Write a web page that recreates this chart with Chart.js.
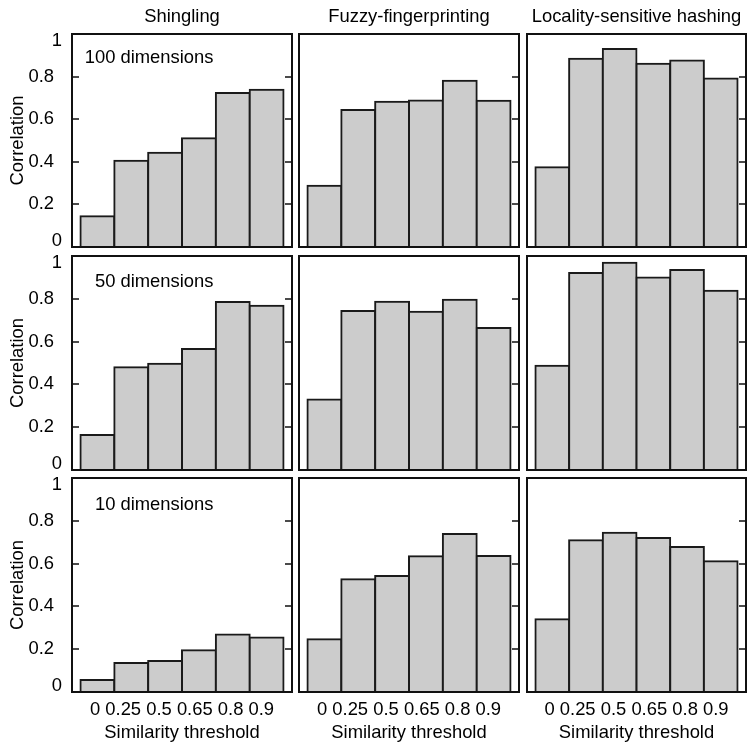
<!DOCTYPE html>
<html>
<head>
<meta charset="utf-8">
<title>Correlation by similarity threshold</title>
<script src="https://cdn.jsdelivr.net/npm/chart.js@4.4.1/dist/chart.umd.min.js"></script>
<style>
  html, body { margin: 0; padding: 0; background: #fff; }
  #wrap { position: relative; width: 747px; height: 744px; overflow: hidden; }
  #wrap canvas { position: absolute; }
</style>
</head>
<body>
<div id="wrap"></div>
<script>
// categories and labels
const thresholds = ['0', '0.25', '0.5', '0.65', '0.8', '0.9'];
const methods = ['Shingling', 'Fuzzy-fingerprinting', 'Locality-sensitive hashing'];
const dimensions = ['100 dimensions', '50 dimensions', '10 dimensions'];
const yTicks = [0, 0.2, 0.4, 0.6, 0.8, 1];

// correlation per threshold
const shingling100 = [0.144, 0.405, 0.442, 0.511, 0.723, 0.738];
const fuzzy100     = [0.288, 0.643, 0.682, 0.688, 0.781, 0.687];
const lsh100       = [0.375, 0.884, 0.929, 0.860, 0.876, 0.791];

const shingling50  = [0.164, 0.480, 0.496, 0.566, 0.785, 0.767];
const fuzzy50      = [0.330, 0.743, 0.786, 0.739, 0.795, 0.664];
const lsh50        = [0.487, 0.920, 0.968, 0.900, 0.935, 0.838];

const shingling10  = [0.056, 0.136, 0.145, 0.195, 0.269, 0.255];
const fuzzy10      = [0.247, 0.527, 0.542, 0.634, 0.738, 0.636];
const lsh10        = [0.340, 0.709, 0.744, 0.720, 0.677, 0.611];

const rows = [
    [shingling100, fuzzy100, lsh100],
    [shingling50, fuzzy50, lsh50],
    [shingling10, fuzzy10, lsh10]
];

// panel boxes in page pixels
const W = 747, H = 744;
const boxL = [72, 299, 527], boxR = [292, 519, 746];
const boxT = [34, 256, 478], boxB = [247, 470, 692];
const labelDy = [24.3, 25.5, 27];

const FONT = '"Liberation Sans", Arial, Helvetica, sans-serif';
const FSIZE = 18.4;
Chart.defaults.font.family = FONT;
Chart.defaults.font.size = FSIZE;
Chart.defaults.color = '#000';

const panelFrame = {
    id: 'panelFrame',
    afterDraw(chart, args, opts) {
        const {ctx, chartArea: a} = chart;
        const y = chart.scales.y;
        ctx.save();
        ctx.strokeStyle = '#111';
        ctx.lineWidth = 2;
        ctx.strokeRect(a.left, a.top, a.right - a.left, a.bottom - a.top);
        ctx.beginPath();
        yTicks.slice(1, -1).forEach(v => {
            const py = Math.round(y.getPixelForValue(v));
            ctx.moveTo(a.right, py); ctx.lineTo(a.right - 7, py);
            if (opts.col === 0) { ctx.moveTo(a.left, py); ctx.lineTo(a.left + 7, py); }
        });
        ctx.lineWidth = 1.5;
        ctx.stroke();
        if (opts.col === 0) {
            ctx.fillStyle = '#000';
            ctx.font = FSIZE + 'px ' + FONT;
            ctx.textAlign = 'right';
            ctx.textBaseline = 'middle';
            // end labels sit inside the box height
            ctx.fillText(String(yTicks[yTicks.length - 1]), a.left - 10, a.top + 7);
            ctx.fillText(String(yTicks[0]), a.left - 10, a.bottom - 6.5);
            ctx.fillText(dimensions[opts.row], a.left + 141.5, a.top + labelDy[opts.row]);
        }
        ctx.restore();
    }
};

const wrap = document.getElementById('wrap');

function makePanel(r, c) {
    const left = c === 0 ? 0 : boxL[c] - 4;
    const right = c === 2 ? W : boxR[c] + 4;
    const top = r === 0 ? 0 : boxT[r] - 4;
    const bottom = r === 2 ? H : boxB[r] + 4;

    const cv = document.createElement('canvas');
    cv.width = right - left;
    cv.height = bottom - top;
    cv.style.left = left + 'px';
    cv.style.top = top + 'px';
    wrap.appendChild(cv);

    const vals = rows[r][c];
    const showX = r === 2, showY = c === 0;
    return new Chart(cv, {
        type: 'bar',
        data: {
            datasets: [{
                data: vals.map((v, i) => ({x: i, y: v})),
                backgroundColor: '#cccccc',
                borderColor: '#1a1a1a',
                borderWidth: 2,
                inflateAmount: 1,
                borderSkipped: false,
                barPercentage: 1,
                categoryPercentage: 1,
                clip: false
            }]
        },
        options: {
            responsive: false,
            animation: false,
            events: [],
            layout: {
                autoPadding: false,
                padding: {
                    left: c === 0 ? 0 : 4,
                    right: right - boxR[c],
                    top: r === 0 ? 0 : 4,
                    bottom: r === 2 ? 0 : 4
                }
            },
            scales: {
                x: {
                    type: 'linear',
                    offset: false,
                    min: -0.75,
                    max: thresholds.length - 0.25,
                    display: showX,
                    grid: {display: false},
                    border: {display: false},
                    ticks: {display: false},
                    title: {
                        display: showX,
                        text: [thresholds.join(' '), 'Similarity threshold'],
                        font: {size: FSIZE, lineHeight: 1.25},
                        padding: {top: 0, bottom: 0}
                    },
                    afterFit(s) {
                        if (!showX) return;
                        s.height = H - boxB[2];
                        s.paddingLeft = 0; s.paddingRight = 0;
                    }
                },
                y: {
                    min: 0,
                    max: 1,
                    display: showY,
                    grid: {display: false},
                    border: {display: false},
                    afterBuildTicks(s) { s.ticks = yTicks.map(v => ({value: v})); },
                    ticks: {
                        padding: 10,
                        callback: (v) => (v === yTicks[0] || v === yTicks[yTicks.length - 1]) ? '' : String(v)
                    },
                    title: {
                        display: true,
                        text: 'Correlation',
                        font: {size: FSIZE},
                        padding: {top: 7, bottom: 0}
                    },
                    afterFit(s) {
                        if (!showY) return;
                        s.width = boxL[0];
                        s.paddingTop = 0; s.paddingBottom = 0;
                    }
                }
            },
            plugins: {
                legend: {display: false},
                tooltip: {enabled: false},
                title: {
                    display: r === 0,
                    text: methods[c],
                    fullSize: false,
                    color: '#000',
                    font: {size: FSIZE, weight: 'normal'},
                    padding: {top: 6, bottom: 34 - 6 - FSIZE * 1.2}
                },
                panelFrame: {row: r, col: c}
            }
        },
        plugins: [panelFrame]
    });
}

const charts = [];
for (let r = 0; r < 3; r++) {
    for (let c = 0; c < 3; c++) charts.push(makePanel(r, c));
}
</script>
</body>
</html>
